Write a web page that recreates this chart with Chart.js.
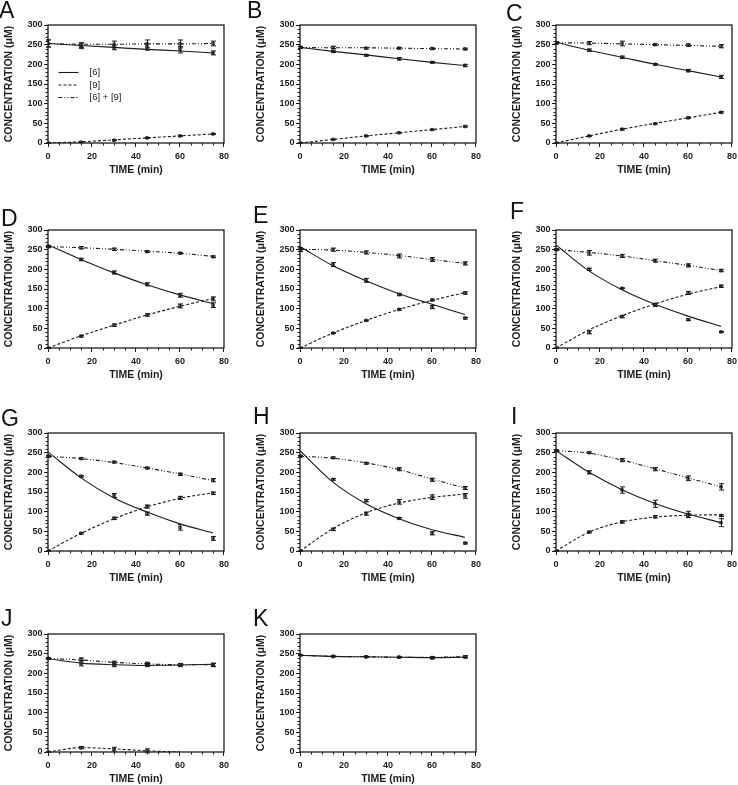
<!DOCTYPE html>
<html>
<head>
<meta charset="utf-8">
<script src="https://cdn.jsdelivr.net/npm/chart.js@4.4.1/dist/chart.umd.min.js"></script>
<style>
html, body { margin: 0; padding: 0; overflow: hidden; background: #fff; }
body { width: 738px; height: 785px; position: relative; font-family: "Liberation Sans", Arial, sans-serif; }
canvas { position: absolute; }
.tag { position: absolute; font-size: 23px; line-height: 23px; color: #111; }
</style>
</head>
<body>
<script>
// sampling times (min), shared by every panel
const TIMES = [0, 15, 30, 45, 60, 75];
const PANELS = ['A', 'B', 'C', 'D', 'E', 'F', 'G', 'H', 'I', 'J', 'K'];
const LEGEND_LABELS = ['[6]', '[9]', '[6] + [9]'];

// fitted curves, one row per panel (A..K)
const FIT_6 = [
    [253, 248, 243, 238, 234, 229],
    [243, 233, 224, 214, 205, 197],
    [256, 236, 218, 200, 184, 168],
    [262, 225, 191, 161, 135, 113],
    [258, 209, 171, 138, 111, 85],
    [262, 196, 148, 111, 81, 55],
    [252, 186, 135, 99, 69, 46],
    [255, 175, 120, 82, 54, 35],
    [255, 200, 156, 121, 94, 72],
    [237, 226, 222, 220, 221, 223],
    [246, 243, 242, 241, 240, 241]
];
const FIT_9 = [
    [0, 3, 8, 13, 18, 23],
    [0, 9, 18, 26, 34, 42],
    [0, 18, 35, 50, 64, 78],
    [0, 31, 58, 84, 106, 126],
    [0, 38, 70, 98, 121, 141],
    [0, 46, 82, 112, 137, 156],
    [0, 45, 82, 112, 134, 148],
    [0, 57, 97, 122, 136, 145],
    [0, 48, 74, 86, 91, 92],
    [0, 11, 8, 3, 0, null],
    [null, null, null, null, null, null]
];
const FIT_SUM = [
    [253, 251, 251, 252, 252, 253],
    [243, 242, 242, 241, 240, 239],
    [255, 254, 252, 250, 248, 246],
    [258, 255, 251, 246, 241, 233],
    [251, 249, 243, 235, 225, 215],
    [250, 243, 234, 222, 210, 197],
    [241, 235, 225, 211, 196, 179],
    [241, 236, 224, 207, 183, 160],
    [255, 249, 231, 209, 186, 163],
    [238, 234, 228, 224, 222, 222],
    [246, 243, 242, 241, 241, 242]
];

// measured means and error bars
const OBS_6 = [
    [253, 247, 243, 244, 237, 229],
    [243, 233, 223, 214, 205, 197],
    [255, 236, 218, 200, 184, 168],
    [258, 225, 192, 162, 134, 109],
    [250, 212, 172, 136, 104, 76],
    [250, 200, 152, 110, 72, 41],
    [241, 190, 141, 95, 60, 32],
    [241, 182, 128, 83, 45, 20],
    [255, 200, 155, 120, 93, 72],
    [238, 225, 222, 221, 221, 221],
    [246, 243, 242, 241, 239, 242]
];
const ERR_6 = [
    [9, 7, 6, 8, 8, 5],
    [3, 3, 2, 3, 2, 3],
    [3, 3, 3, 2, 3, 4],
    [2, 3, 4, 4, 5, 6],
    [4, 5, 5, 3, 4, 2],
    [2, 3, 1, 3, 2, 1],
    [2, 2, 5, 4, 7, 5],
    [2, 2, 3, 2, 4, 2],
    [2, 4, 8, 9, 8, 10],
    [2, 6, 5, 4, 4, 4],
    [1, 1, 1, 1, 2, 3]
];
const OBS_9 = [
    [0, 2, 7, 13, 18, 23],
    [0, 9, 18, 26, 34, 42],
    [0, 18, 35, 49, 64, 78],
    [0, 30, 58, 84, 107, 125],
    [0, 38, 70, 98, 122, 140],
    [0, 40, 80, 110, 140, 157],
    [0, 45, 83, 113, 135, 147],
    [0, 55, 95, 125, 137, 140],
    [0, 48, 74, 87, 90, 90],
    [0, 11, 7, 3, null, null],
    [null, null, null, null, null, null]
];
const ERR_9 = [
    [1, 1, 1, 1, 1, 1],
    [1, 1, 1, 1, 1, 1.5],
    [1, 1, 2, 1, 2, 2],
    [1, 2, 3, 3, 5, 5],
    [1, 1, 1, 2, 2, 3],
    [1, 4, 3, 4, 4, 3],
    [1, 2, 3, 4, 4, 3],
    [1, 3, 4, 6, 6, 6],
    [1, 2, 3, 3, 5, 2],
    [1, 3, 5, 5, 0, 0],
    [0, 0, 0, 0, 0, 0]
];
const OBS_SUM = [
    [253, 249, 251, 252, 252, 253],
    [243, 243, 241, 241, 240, 239],
    [255, 254, 253, 250, 249, 246],
    [258, 255, 251, 245, 241, 232],
    [250, 250, 243, 234, 225, 215],
    [250, 242, 234, 222, 210, 197],
    [241, 235, 226, 211, 195, 180],
    [241, 237, 223, 208, 181, 160],
    [255, 250, 231, 208, 185, 163],
    [238, 236, 227, 225, 222, 222],
    [246, 243, 242, 241, 240, 242]
];
const ERR_SUM = [
    [9, 6, 8, 10, 10, 6],
    [2, 3, 2, 2, 2, 2],
    [3, 4, 6, 2, 3, 4],
    [3, 3, 3, 2, 2, 2],
    [5, 4, 4, 5, 5, 4],
    [2, 6, 4, 4, 4, 3],
    [2, 2, 2, 2, 3, 4],
    [2, 2, 2, 4, 4, 4],
    [2, 2, 4, 4, 6, 8],
    [2, 3, 4, 3, 3, 4],
    [1, 1, 1, 1, 2, 2]
];

// page layout
const PLOT_LEFT = [48, 300, 556];
const PLOT_TOP = [25, 230, 433, 634];
const PLOT_W = 177, PLOT_H = 118;
const AXIS_W = 48, AXIS_H = 36, PAD = 8;
const TAG_POS = [[-1, -1], [247, -1], [506, 2], [1, 207], [253, 204], [510, 200],
                 [1, 407], [253, 405], [511, 405], [1, 607], [253, 607]];

const INK = '#1c1c1c';
const DASH_6 = [];
const DASH_9 = [3, 2];
const DASH_SUM = [4, 2, 1, 2, 1, 2];

Chart.defaults.font.family = '"Liberation Sans", Arial, sans-serif';
Chart.defaults.color = INK;

const framePlugin = {
    id: 'frame',
    afterDraw(chart) {
        const { ctx, chartArea: a, scales: { x, y } } = chart;
        ctx.save();
        ctx.strokeStyle = INK;
        ctx.lineWidth = 1;
        ctx.beginPath();
        for (let v = 10; v < 300; v += 10) {
            if (v % 50 === 0) continue;
            const py = Math.round(y.getPixelForValue(v)) + 0.5;
            ctx.moveTo(a.left - 2.5, py);
            ctx.lineTo(a.left, py);
        }
        for (let v = 5; v < 80; v += 5) {
            if (v % 20 === 0) continue;
            const px = Math.round(x.getPixelForValue(v)) + 0.5;
            ctx.moveTo(px, a.bottom);
            ctx.lineTo(px, a.bottom + 2.5);
        }
        ctx.stroke();
        ctx.lineWidth = 1.3;
        ctx.strokeRect(a.left, a.top, a.right - a.left, a.bottom - a.top);
        ctx.restore();
    }
};

const errorBarPlugin = {
    id: 'errorBars',
    afterDatasetsDraw(chart) {
        const { ctx, scales: { x, y } } = chart;
        ctx.save();
        ctx.strokeStyle = INK;
        ctx.lineWidth = 1;
        chart.data.datasets.forEach(ds => {
            if (!ds.errors) return;
            ds.data.forEach((p, i) => {
                const e = ds.errors[i];
                if (p.y == null || !e) return;
                const px = Math.round(x.getPixelForValue(p.x)) + 0.5;
                const top = y.getPixelForValue(p.y + e);
                const bot = y.getPixelForValue(p.y - e);
                ctx.beginPath();
                ctx.moveTo(px, top); ctx.lineTo(px, bot);
                ctx.moveTo(px - 2.5, top); ctx.lineTo(px + 2.5, top);
                ctx.moveTo(px - 2.5, bot); ctx.lineTo(px + 2.5, bot);
                ctx.stroke();
            });
        });
        ctx.restore();
    }
};

const legendPlugin = {
    id: 'inlineLegend',
    afterDraw(chart, args, opts) {
        if (!opts.show) return;
        const { ctx, chartArea: a } = chart;
        const dashes = [DASH_6, DASH_9, DASH_SUM];
        ctx.save();
        ctx.strokeStyle = INK;
        ctx.fillStyle = INK;
        ctx.lineWidth = 1.1;
        ctx.font = '9.5px "Liberation Sans", Arial, sans-serif';
        ctx.textBaseline = 'middle';
        LEGEND_LABELS.forEach((lbl, i) => {
            const yy = a.top + 47.5 + i * 12.5;
            ctx.setLineDash(dashes[i]);
            ctx.beginPath();
            ctx.moveTo(a.left + 10.5, yy);
            ctx.lineTo(a.left + 30.5, yy);
            ctx.stroke();
            ctx.fillText(lbl, a.left + 41.5, yy);
        });
        ctx.restore();
    }
};

function pts(vals) {
    return TIMES.map((t, i) => ({ x: t, y: vals[i] }));
}

function fitSet(vals, dash) {
    return {
        data: pts(vals), showLine: true, pointRadius: 0, borderColor: INK,
        borderWidth: 1.1, borderDash: dash, cubicInterpolationMode: 'monotone'
    };
}

function obsSet(vals, errs) {
    return {
        data: pts(vals), errors: errs, showLine: false, pointStyle: 'rect',
        pointRadius: 1.8, backgroundColor: '#888', borderColor: INK, borderWidth: 0.8
    };
}

PANELS.forEach((name, k) => {
    const col = k % 3, row = Math.floor(k / 3);
    const canvas = document.createElement('canvas');
    canvas.width = AXIS_W + PLOT_W + PAD;
    canvas.height = PAD + PLOT_H + AXIS_H;
    canvas.style.left = (PLOT_LEFT[col] - AXIS_W) + 'px';
    canvas.style.top = (PLOT_TOP[row] - PAD) + 'px';
    document.body.appendChild(canvas);

    const tag = document.createElement('div');
    tag.className = 'tag';
    tag.textContent = name;
    tag.style.left = TAG_POS[k][0] + 'px';
    tag.style.top = TAG_POS[k][1] + 'px';
    document.body.appendChild(tag);

    const datasets = [fitSet(FIT_6[k], DASH_6), fitSet(FIT_SUM[k], DASH_SUM)];
    if (FIT_9[k].some(v => v != null)) datasets.push(fitSet(FIT_9[k], DASH_9));
    datasets.push(obsSet(OBS_SUM[k], ERR_SUM[k]), obsSet(OBS_6[k], ERR_6[k]));
    if (OBS_9[k].some(v => v != null)) datasets.push(obsSet(OBS_9[k], ERR_9[k]));

    new Chart(canvas, {
        type: 'scatter',
        data: { datasets },
        plugins: [framePlugin, errorBarPlugin, legendPlugin],
        options: {
            responsive: false,
            animation: false,
            devicePixelRatio: 1,
            layout: { padding: { top: PAD, right: PAD, left: 0, bottom: 0 } },
            plugins: {
                legend: { display: false },
                tooltip: { enabled: false },
                inlineLegend: { show: k === 0 }
            },
            scales: {
                x: {
                    type: 'linear', min: 0, max: 80,
                    ticks: { stepSize: 20, padding: 4, maxRotation: 0, font: { size: 9, weight: 'bold' }, color: INK },
                    grid: { drawOnChartArea: false, tickLength: 4, color: INK },
                    border: { display: false },
                    title: { display: true, text: 'TIME (min)', font: { size: 10.5, weight: 'bold' }, color: INK, padding: { top: 0, bottom: 3 } },
                    afterFit: s => { s.height = AXIS_H; }
                },
                y: {
                    min: 0, max: 300,
                    ticks: { stepSize: 50, padding: 1.5, font: { size: 9, weight: 'bold' }, color: INK },
                    grid: { drawOnChartArea: false, tickLength: 4, color: INK },
                    border: { display: false },
                    title: { display: true, text: 'CONCENTRATION (μM)', font: { size: 10.5, weight: 'bold' }, color: INK, padding: { top: 3, bottom: 0 } },
                    afterFit: s => { s.width = AXIS_W; }
                }
            }
        }
    });
});
</script>
</body>
</html>
